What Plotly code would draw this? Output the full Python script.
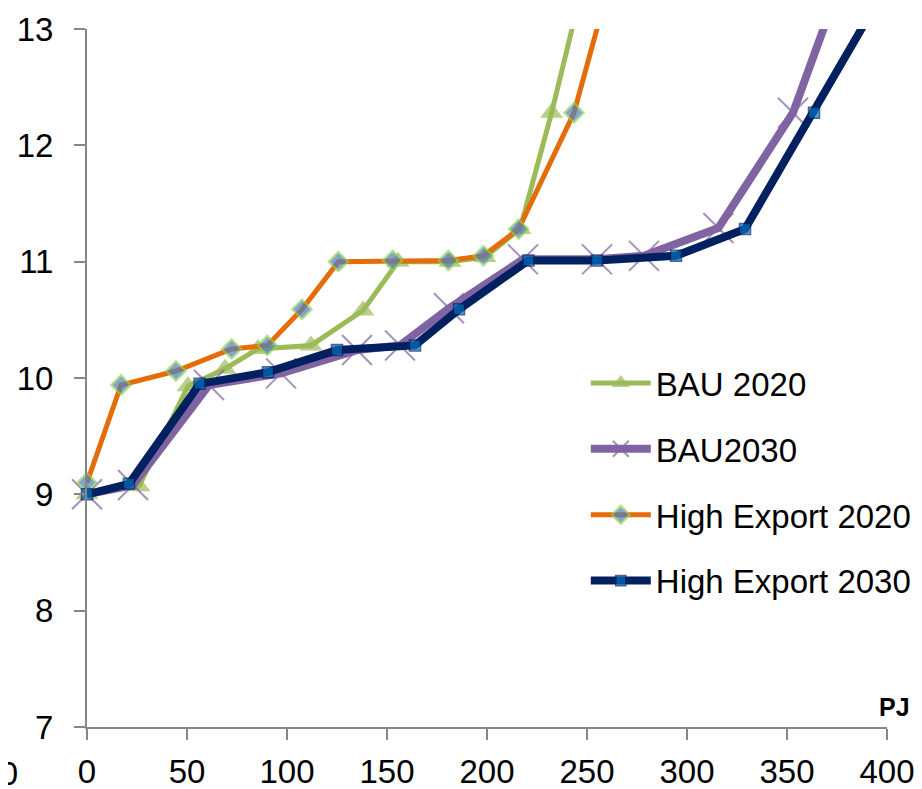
import plotly.graph_objects as go

# ---- data ----
bau2020_x = [0, 26, 50.5, 69, 85.5, 112, 138, 155.5, 181.5, 199, 216.5, 232.3, 250]
bau2020_y = [9.0, 9.07, 9.93, 10.08, 10.25, 10.28, 10.58, 11.0, 11.0, 11.04, 11.28, 12.28, 13.53]

bau2030_x = [0, 23, 61, 97, 135, 156.5, 181, 218, 255, 278.5, 315.7, 353, 375]
bau2030_y = [9.0, 9.08, 9.94, 10.04, 10.24, 10.28, 10.6, 11.02, 11.02, 11.05, 11.29, 12.28, 13.32]

he2020_x = [0, 17, 44.5, 72.3, 90.2, 107.5, 125.7, 152.8, 180.7, 198.2, 215.8, 243.5, 265]
he2020_y = [9.10, 9.94, 10.06, 10.25, 10.28, 10.59, 11.0, 11.01, 11.01, 11.05, 11.28, 12.28, 13.63]

he2030_x = [0, 21, 56.3, 90.5, 125, 164, 186, 220.7, 255, 294.5, 329, 363.5, 395]
he2030_y = [9.0, 9.09, 9.95, 10.05, 10.24, 10.28, 10.59, 11.01, 11.01, 11.05, 11.28, 12.28, 13.23]

x_ticks = [0, 50, 100, 150, 200, 250, 300, 350, 400]
y_ticks = [7, 8, 9, 10, 11, 12, 13]
y_max = 13

FONT = "Liberation Sans"


def sizes(ys, s):
    return [s if v <= y_max else 0 for v in ys]


fig = go.Figure()

fig.add_trace(go.Scatter(
    x=bau2020_x, y=bau2020_y, name="BAU 2020", mode="lines+markers",
    legendgroup="a", cliponaxis=False,
    line=dict(color="#9BBB59", width=5),
    marker=dict(symbol="triangle-up", size=sizes(bau2020_y, 20), color="#9BBB59",
                line=dict(width=0)),
))
fig.add_trace(go.Scatter(
    x=bau2030_x, y=bau2030_y, name="BAU2030", mode="lines+markers",
    legendgroup="b", cliponaxis=False,
    line=dict(color="#8064A2", width=8),
    marker=dict(symbol="x-thin", size=sizes(bau2030_y, 30), color="#8064A2",
                line=dict(width=2, color="#8064A2")),
))
fig.add_trace(go.Scatter(
    x=he2020_x, y=he2020_y, name="High Export 2020", mode="lines+markers",
    legendgroup="c", cliponaxis=False,
    line=dict(color="#E46C0A", width=5),
    marker=dict(symbol="diamond", size=sizes(he2020_y, 15), color="#4F81BD",
                line=dict(width=2, color="#92D050")),
))
fig.add_trace(go.Scatter(
    x=he2030_x, y=he2030_y, name="High Export 2030", mode="lines+markers",
    legendgroup="d", cliponaxis=False,
    line=dict(color="#002060", width=8),
    marker=dict(symbol="square", size=sizes(he2030_y, 11), color="#0070C0",
                line=dict(width=1.5, color="#002060")),
))

axis_common = dict(
    showgrid=False, zeroline=False, showline=True, linecolor="#868686", linewidth=2,
    ticks="outside", ticklen=11, tickwidth=2, tickcolor="#868686", automargin=False,
    tickfont=dict(family=FONT, size=33, color="black"),
)

fig.update_xaxes(range=[0, 400], tickvals=x_ticks, ticktext=[str(v) for v in x_ticks],
                 ticklabelstandoff=3, **axis_common)
fig.update_yaxes(range=[7, 13], tickvals=y_ticks, ticktext=[str(v) for v in y_ticks],
                 ticklabelstandoff=14, **axis_common)

fig.update_layout(
    width=922, height=789,
    margin=dict(l=79, r=43, t=21, b=70),
    paper_bgcolor="white", plot_bgcolor="white",
    font=dict(family=FONT, color="black"),
    legend=dict(x=0.6235, y=0.533, xanchor="left", yanchor="top",
                font=dict(family=FONT, size=33, color="black"),
                bgcolor="rgba(0,0,0,0)", tracegroupgap=20, itemwidth=60),
    annotations=[
        dict(text="<b>PJ</b>", xref="paper", yref="paper", x=1.031, y=0.029,
             xanchor="right", yanchor="middle", showarrow=False,
             font=dict(family=FONT, size=25, color="black")),
        dict(text="-100", xref="paper", yref="paper", x=-0.084, y=-0.066,
             xanchor="right", yanchor="middle", showarrow=False,
             font=dict(family=FONT, size=33, color="black")),
    ],
)

fig.write_html("out.html")
